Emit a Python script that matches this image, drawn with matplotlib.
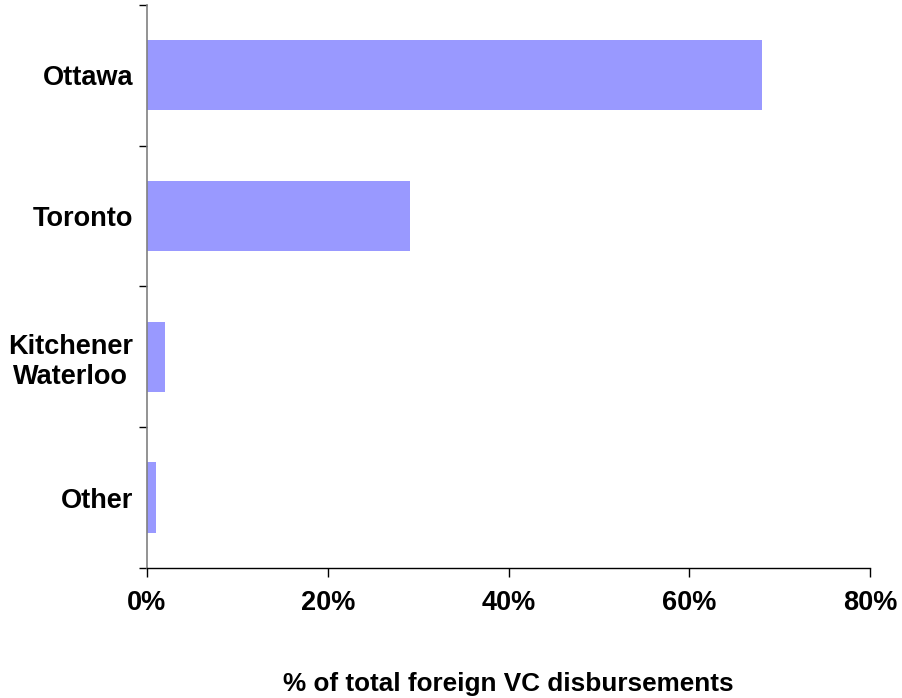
import matplotlib
matplotlib.use("Agg")
import matplotlib.pyplot as plt
from matplotlib.ticker import FixedLocator, PercentFormatter

# Share of foreign VC disbursements by region (percent)
regions = ["Other", "Kitchener\nWaterloo", "Toronto", "Ottawa"]
shares = [1.0, 2.0, 29.1, 68.1]
x_ticks = [0, 20, 40, 60, 80]
x_label = "% of total foreign VC disbursements"

plt.rcParams["font.family"] = ["Liberation Sans", "DejaVu Sans"]
plt.rcParams["font.weight"] = "bold"

fig = plt.figure(figsize=(9.02, 6.98), dpi=100)
ax = fig.add_axes([147 / 902, 1 - 568 / 698, (870 - 147) / 902, (568 - 4.7) / 698])

positions = [i + 0.5 for i in range(len(regions))]
ax.barh(positions, shares, height=0.5, color="#9999FF", edgecolor="none", zorder=2)

ax.set_xlim(0, 80)
ax.set_ylim(0, len(regions))

ax.xaxis.set_major_locator(FixedLocator(x_ticks))
ax.xaxis.set_major_formatter(PercentFormatter(decimals=0))

# Category labels sit between the tick marks, which mark band boundaries
ax.set_yticks(positions)
ax.set_yticklabels(regions, ha="right", multialignment="center")
ax.yaxis.set_minor_locator(FixedLocator(range(len(regions) + 1)))

ax.tick_params(axis="x", which="major", direction="out", length=6.5, width=1.0,
               color="black", labelsize=19.5, pad=9)
ax.tick_params(axis="y", which="major", length=0, labelsize=19.5, pad=10)
ax.tick_params(axis="y", which="minor", direction="out", length=5.8, width=1.0,
               color="black")

for lbl in ax.get_xticklabels() + ax.get_yticklabels():
    lbl.set_fontweight("bold")

ax.spines["top"].set_visible(False)
ax.spines["right"].set_visible(False)
ax.spines["left"].set_color("#808080")
ax.spines["left"].set_linewidth(1.2)
ax.spines["bottom"].set_color("black")
ax.spines["bottom"].set_linewidth(1.0)

ax.set_xlabel(x_label, fontsize=18.8, fontweight="bold", labelpad=41)

fig.savefig("out.png", dpi=100, facecolor="white")
